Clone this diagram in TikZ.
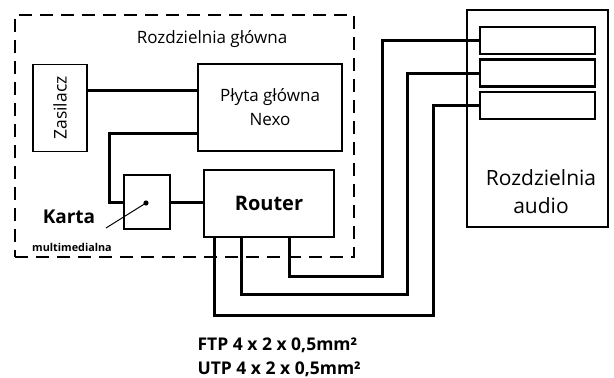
\documentclass[tikz,border=0pt]{standalone}
\usepackage{fontspec}
\setmainfont{Open Sans}
\usepackage{tikz}
\usetikzlibrary{positioning, calc}

\begin{document}
\begin{tikzpicture}[x=1pt, y=-1pt, font=\fontsize{17}{24}\selectfont,
  box/.style={draw, line width=1.2pt, align=center, inner sep=0pt},
  thickbox/.style={box, line width=2.2pt},
  cable/.style={line width=3pt},
  area/.style={draw, line width=1.8pt, dash pattern=on 13pt off 8pt, inner sep=0pt}]
  \useasboundingbox (0,0) rectangle (614,378);
  % main cabinet (dashed)
  \node[area, minimum width=339pt, minimum height=242pt] (main) at (184.5,136) {};
  \node (maintitle) at (212,39) {Rozdzielnia główna};
  % devices inside
  \node[box, minimum width=54pt, minimum height=87pt, font=\fontsize{17.5}{20}\selectfont] (zas) at (60,108)
    {\rotatebox{90}{Zasilacz}};
  \node[box, minimum width=144pt, minimum height=87pt] (plyta) at (270,107.5)
    {Płyta główna\\ Nexo};
  \node[box, minimum width=46pt, minimum height=54pt] (karta) at (147,202) {};
  \node[thickbox, minimum width=130pt, minimum height=67pt,
        font=\fontsize{20}{24}\selectfont\bfseries] (router) at (269,203.5) {Router};
  % karta label
  \node[font=\fontsize{19}{22}\selectfont\bfseries] (kartalbl) at (69,217) {Karta};
  \node[font=\fontsize{10.8}{13}\selectfont\bfseries] (multilbl) at (72,247) {multimedialna};
  \coordinate (kdot) at (146,203);
  \coordinate (kend) at (106,228);
  \fill (kdot) circle (2.6pt);
  \draw[line width=1pt] (kdot) -- (kend);
  % audio cabinet
  \node[box, line width=1.8pt, minimum width=141pt, minimum height=217pt] (audio) at (537.5,118.5) {};
  \node[font=\fontsize{21}{28}\selectfont, align=center] (audiolbl) at (541,192) {Rozdzielnia\\ audio};
  \node[thickbox, minimum width=115pt, minimum height=27pt] (port1) at (537.5,40.5) {};
  \node[thickbox, minimum width=115pt, minimum height=27pt] (port2) at (537.5,73) {};
  \node[thickbox, minimum width=115pt, minimum height=27pt] (port3) at (537.5,105.5) {};
  % internal wiring
  \draw[cable] (zas.east |- 0,90) -- (plyta.west |- 0,90);
  \draw[cable] ([yshift=-25.5pt]plyta.west) -| ([xshift=-14pt]karta.west) -- (karta.west);
  \draw[cable] (karta.east) -- (router.west |- karta.east);
  % cables to audio
  \coordinate (c1) at (382,276);
  \coordinate (c2) at (407,294);
  \coordinate (c3) at (433,315);
  \draw[cable] (router.south -| 289,0) |- (c1) |- (port1.west);
  \draw[cable] (router.south -| 241,0) |- (c2) |- (port2.west);
  \draw[cable] (router.south -| 214,0) |- (c3) |- (port3.west);
  % cable type
  \node[font=\fontsize{17.5}{24}\selectfont\bfseries, align=left, anchor=west] (cablelbl) at (194,357)
    {FTP 4 x 2 x 0,5mm²\\ UTP 4 x 2 x 0,5mm²};
\end{tikzpicture}
\end{document}
